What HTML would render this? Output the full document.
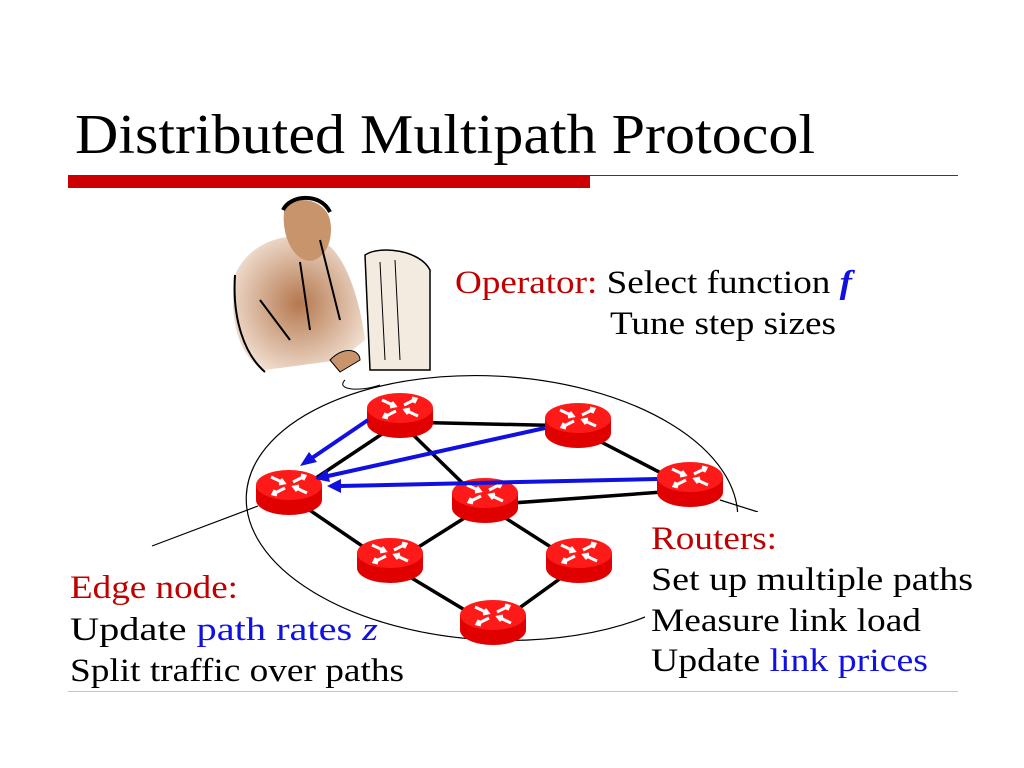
<!DOCTYPE html>
<html><head><meta charset="utf-8"><style>
html,body{margin:0;padding:0;background:#fff;width:1024px;height:768px;overflow:hidden}
svg{display:block}
text{font-family:"Liberation Serif",serif}
</style></head><body>
<svg width="1024" height="768" viewBox="0 0 1024 768" xmlns="http://www.w3.org/2000/svg">
<defs>
<g id="r">
<path d="M-33,0 L-33,15 A33,15 0 0 0 33,15 L33,0 Z" fill="#e00000"/>
<ellipse cx="0" cy="0" rx="33" ry="15" fill="#ff1a1a"/>
<g stroke="#fff" stroke-width="3" fill="none">
<path d="M-18,-8 L-5,-2 M-8,-6 L-5,-2 L-10,-1"/>
<path d="M18,8 L5,2 M8,6 L5,2 L10,1"/>
<path d="M4,-3 L16,-9 M12,-10 L16,-9 L14,-5"/>
<path d="M-4,3 L-16,9 M-12,10 L-16,9 L-14,5"/>
</g>
</g>
<radialGradient id="sk" cx="0.5" cy="0.5" r="0.6"><stop offset="0" stop-color="#b5784e"/><stop offset="1" stop-color="#f5e6da"/></radialGradient>
</defs>

<text x="75" y="153" font-size="56" textLength="740" lengthAdjust="spacingAndGlyphs">Distributed Multipath Protocol</text>
<rect x="68" y="175" width="522" height="13" fill="#cc0000"/>
<line x1="590" y1="175.5" x2="958" y2="175.5" stroke="#cc0000" stroke-width="1"/>
<line x1="68" y1="691.5" x2="958" y2="691.5" stroke="#e0b8b8" stroke-width="1"/>

<!-- operator clipart -->
<g>
<path d="M235,275 C250,240 290,230 320,240 C345,250 360,300 365,340 L340,360 L265,370 C240,360 228,320 235,275Z" fill="url(#sk)"/>
<path d="M285,205 C300,195 325,200 330,220 C335,245 320,265 305,260 C290,255 280,230 285,205Z" fill="#c8946c"/>
<path d="M283,210 C290,195 320,192 330,212" stroke="#000" stroke-width="4" fill="none"/>
<path d="M235,275 C232,320 245,355 265,372 M300,262 L310,330 M320,240 L340,320 M260,300 L290,340" stroke="#000" stroke-width="2" fill="none"/>
<path d="M365,255 C380,245 420,250 430,270 L430,370 L370,370 Z" fill="#f4ebe0" stroke="#000" stroke-width="1.5"/>
<path d="M380,262 L385,360 M395,260 L400,360" stroke="#000" stroke-width="1" fill="none"/>
<path d="M330,360 C345,345 360,350 360,360 L340,372Z" fill="#c8946c" stroke="#000"/>
<path d="M345,380 C335,390 360,392 380,385" stroke="#000" fill="none"/>
</g>

<!-- ellipse -->
<ellipse cx="492" cy="508" rx="246" ry="132" fill="none" stroke="#000" stroke-width="1.2" transform="rotate(3 492 508)"/>
<line x1="152" y1="546" x2="258" y2="506" stroke="#000" stroke-width="1.2"/>
<line x1="720" y1="500" x2="758" y2="512" stroke="#000" stroke-width="1.2"/>
<rect x="645" y="512" width="335" height="176" fill="#fff"/>

<!-- links -->
<g stroke="#000" stroke-width="3.5">
<line x1="400" y1="422" x2="578" y2="426"/>
<line x1="578" y1="430" x2="690" y2="488"/>
<line x1="400" y1="422" x2="289" y2="496"/>
<line x1="400" y1="422" x2="485" y2="505"/>
<line x1="485" y1="505" x2="690" y2="490"/>
<line x1="289" y1="496" x2="390" y2="565"/>
<line x1="485" y1="505" x2="390" y2="565"/>
<line x1="485" y1="505" x2="579" y2="565"/>
<line x1="390" y1="565" x2="493" y2="627"/>
<line x1="579" y1="565" x2="493" y2="627"/>
</g>

<use href="#r" x="400" y="408"/>
<use href="#r" x="578" y="418"/>
<use href="#r" x="690" y="477"/>
<use href="#r" x="289" y="485"/>
<use href="#r" x="485" y="493"/>
<use href="#r" x="390" y="553"/>
<use href="#r" x="579" y="553"/>
<use href="#r" x="493" y="615"/>

<!-- blue arrows -->
<g stroke="#1010e0" stroke-width="4" fill="#1010e0">
<line x1="368" y1="420" x2="312" y2="458"/>
<polygon points="300,466 309,452 317,462" stroke="none"/>
<line x1="545" y1="428" x2="328" y2="476"/>
<polygon points="315,479 327,469 330,482" stroke="none"/>
<line x1="657" y1="479" x2="340" y2="486"/>
<polygon points="327,486 341,479 341,493" stroke="none"/>
</g>

<!-- text -->
<g font-size="33">
<text x="455" y="293" textLength="397" lengthAdjust="spacingAndGlyphs"><tspan fill="#c00000">Operator:</tspan> Select function <tspan fill="#1010e0" font-style="italic" font-weight="bold">f</tspan></text>
<text x="610" y="334" textLength="226" lengthAdjust="spacingAndGlyphs">Tune step sizes</text>
<text x="70" y="598" fill="#c00000" textLength="168" lengthAdjust="spacingAndGlyphs">Edge node:</text>
<text x="70" y="640" textLength="308" lengthAdjust="spacingAndGlyphs">Update <tspan fill="#1010e0">path rates <tspan font-style="italic">z</tspan></tspan></text>
<text x="70" y="681" textLength="334" lengthAdjust="spacingAndGlyphs">Split traffic over paths</text>
<text x="651" y="549" fill="#c00000" textLength="126" lengthAdjust="spacingAndGlyphs">Routers:</text>
<text x="651" y="590" textLength="322" lengthAdjust="spacingAndGlyphs">Set up multiple paths</text>
<text x="651" y="631" textLength="270" lengthAdjust="spacingAndGlyphs">Measure link load</text>
<text x="651" y="671" textLength="277" lengthAdjust="spacingAndGlyphs">Update <tspan fill="#1010e0">link prices</tspan></text>
</g>
</svg>
</body></html>
